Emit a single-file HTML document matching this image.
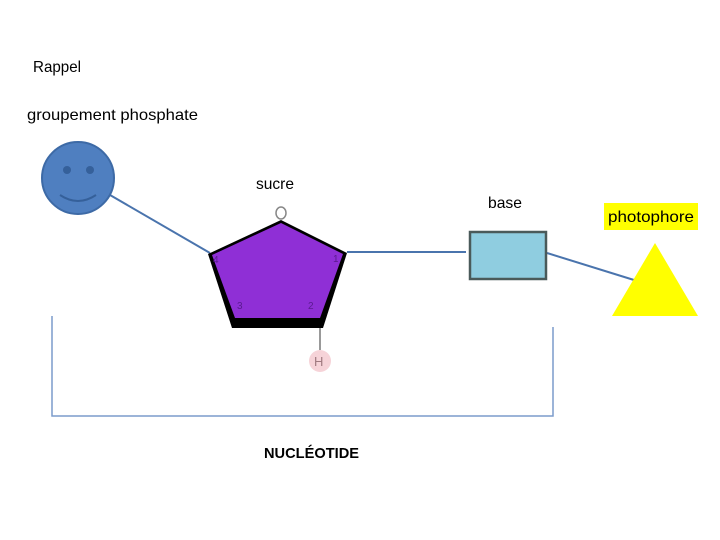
<!DOCTYPE html>
<html><head><meta charset="utf-8"><style>
html,body{margin:0;padding:0;background:#fff;}
svg{display:block;}
text{font-family:"Liberation Sans",sans-serif;fill:#000;}
</style></head><body>
<svg width="720" height="540" viewBox="0 0 720 540" xmlns="http://www.w3.org/2000/svg">
<text x="33" y="72" font-size="16" textLength="48" lengthAdjust="spacingAndGlyphs">Rappel</text>
<text x="27" y="120" font-size="16" textLength="171" lengthAdjust="spacingAndGlyphs">groupement phosphate</text>
<text x="256" y="189" font-size="16" textLength="38" lengthAdjust="spacingAndGlyphs">sucre</text>
<text x="488" y="208" font-size="16" textLength="34" lengthAdjust="spacingAndGlyphs">base</text>
<rect x="604" y="203" width="94" height="27" fill="#ffff00"/>
<text x="608" y="222" font-size="16" textLength="86" lengthAdjust="spacingAndGlyphs">photophore</text>
<text x="264" y="458" font-size="15" font-weight="bold" textLength="95" lengthAdjust="spacingAndGlyphs">NUCLÉOTIDE</text>
<line x1="110" y1="195" x2="210" y2="253" stroke="#4a74ad" stroke-width="2"/>
<line x1="347" y1="252" x2="466" y2="252" stroke="#4a74ad" stroke-width="2"/>
<line x1="547" y1="253" x2="634" y2="280" stroke="#4a74ad" stroke-width="2"/>
<polyline points="52,316 52,416 553,416 553,327" fill="none" stroke="#7b9ccc" stroke-width="1.5"/>
<circle cx="78" cy="178" r="36" fill="#4f7fc0" stroke="#3d6aa6" stroke-width="2"/>
<circle cx="67" cy="170" r="4" fill="#35609a"/>
<circle cx="90" cy="170" r="4" fill="#35609a"/>
<path d="M60 195 Q78 207 96 195" fill="none" stroke="#35609a" stroke-width="2"/>
<polygon points="281,220 347,253 323,328 232,328 208,254" fill="#000"/>
<polygon points="281,223 343,254 320,318 235,318 212,255" fill="#8f2fd6"/>
<ellipse cx="281" cy="213" rx="5" ry="6" fill="#fff" stroke="#888" stroke-width="1.5"/>
<text x="213" y="263" font-size="10" style="fill:#5a1a90">4</text>
<text x="333" y="262" font-size="10" style="fill:#5a1a90">1</text>
<text x="237" y="309" font-size="10" style="fill:#5a1a90">3</text>
<text x="308" y="309" font-size="10" style="fill:#5a1a90">2</text>
<line x1="320" y1="328" x2="320" y2="350" stroke="#777" stroke-width="1.5"/>
<circle cx="320" cy="361" r="11" fill="#f6d3d8"/>
<text x="314" y="366" font-size="13" style="fill:#a07a80">H</text>
<rect x="470" y="232" width="76" height="47" fill="#8fcde0" stroke="#4a5a5a" stroke-width="2.5"/>
<polygon points="655,243 698,316 612,316" fill="#ffff00"/>
</svg>
</body></html>
